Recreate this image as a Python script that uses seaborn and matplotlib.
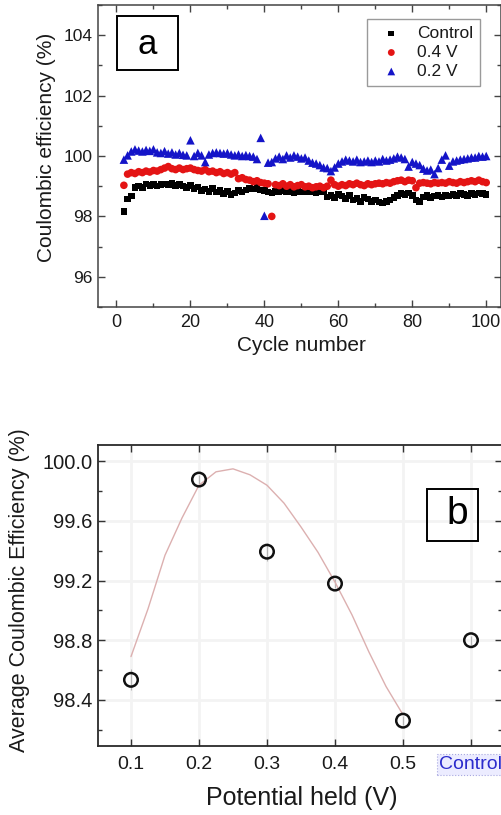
import numpy as np
import pandas as pd
import matplotlib
matplotlib.use("Agg")
import matplotlib.pyplot as plt
import seaborn as sns
from matplotlib.patches import Rectangle
from matplotlib.ticker import MultipleLocator

# ---------------- data: panel a ----------------
cycle = list(range(2, 101))
ce_control = [98.17, 98.58, 98.68, 98.95, 99.00, 98.95, 99.08, 99.02, 99.05,
              99.00, 99.05, 99.08, 99.05, 99.10, 99.02, 99.05, 99.00, 98.95, 99.02,
              98.92, 98.98, 98.85, 98.90, 98.82, 98.92, 98.80, 98.85, 98.75, 98.82,
              98.72, 98.78, 98.85, 98.80, 98.88, 98.92, 98.90, 98.95, 98.88, 98.85,
              98.80, 98.78, 98.82, 98.80, 98.85, 98.80, 98.82, 98.78, 98.82, 98.80,
              98.85, 98.80, 98.82, 98.78, 98.80, 98.82, 98.65, 98.70, 98.62, 98.72,
              98.68, 98.60, 98.70, 98.55, 98.60, 98.50, 98.62, 98.58, 98.50, 98.55,
              98.48, 98.45, 98.50, 98.55, 98.62, 98.70, 98.75, 98.72, 98.78, 98.70,
              98.55, 98.50, 98.65, 98.70, 98.62, 98.68, 98.70, 98.65, 98.70, 98.68,
              98.72, 98.70, 98.75, 98.72, 98.70, 98.75, 98.72, 98.78, 98.75, 98.72]
ce_04v = [99.03, 99.40, 99.45, 99.42, 99.48, 99.45, 99.50, 99.47, 99.52,
          99.50, 99.55, 99.60, 99.65, 99.58, 99.55, 99.60, 99.55, 99.58, 99.60,
          99.55, 99.52, 99.50, 99.55, 99.48, 99.50, 99.45, 99.48, 99.42, 99.45,
          99.40, 99.45, 99.25, 99.28, 99.22, 99.20, 99.15, 99.18, 99.12, 99.10,
          99.08, 98.00, 99.05, 99.02, 99.08, 99.00, 99.05, 98.98, 99.02, 99.05,
          98.98, 99.00, 98.95, 98.98, 99.00, 98.95, 99.00, 99.20, 99.05, 99.00,
          99.05, 99.02, 99.08, 99.05, 99.10, 99.05, 99.02, 99.08, 99.05, 99.08,
          99.10, 99.08, 99.12, 99.10, 99.15, 99.18, 99.20, 99.15, 99.20, 99.18,
          98.95, 99.10, 99.12, 99.10, 99.08, 99.12, 99.10, 99.12, 99.10, 99.15,
          99.12, 99.10, 99.15, 99.12, 99.15, 99.18, 99.15, 99.20, 99.15, 99.12]
ce_02v = [99.88, 100.02, 100.15, 100.22, 100.18, 100.15, 100.20, 100.17, 100.22,
          100.12, 100.10, 100.16, 100.08, 100.12, 100.05, 100.10, 100.04, 100.02, 100.52,
          100.00, 100.10, 100.02, 99.80, 100.05, 100.10, 100.12, 100.10, 100.08, 100.10,
          100.05, 100.02, 100.05, 100.00, 100.03, 100.00, 99.98, 99.90, 100.60, 98.02,
          99.78, 99.80, 99.92, 99.98, 99.90, 100.02, 99.95, 100.02, 99.98, 99.92,
          99.95, 99.85, 99.78, 99.75, 99.70, 99.62, 99.60, 99.50, 99.62, 99.75,
          99.82, 99.88, 99.85, 99.82, 99.88, 99.80, 99.82, 99.85, 99.80, 99.85,
          99.82, 99.90, 99.85, 99.88, 99.92, 99.98, 99.95, 99.90, 99.65, 99.80,
          99.75, 99.70, 99.58, 99.52, 99.55, 99.40, 99.60, 99.88, 100.02, 99.68,
          99.82, 99.85, 99.88, 99.90, 99.92, 99.95, 99.95, 100.00, 99.98, 100.00]
series_labels = ["Control", "0.4 V", "0.2 V"]

# ---------------- data: panel b ----------------
potential = [0.1, 0.2, 0.3, 0.4, 0.5, 0.6]
potential_labels = ["0.1", "0.2", "0.3", "0.4", "0.5", "Control"]
avg_ce = [98.534, 99.878, 99.394, 99.18, 98.26, 98.80]
avg_err = [0.07, 0.03, 0.06, 0.03, 0.03, 0.03]
fit_x = [0.1, 0.125, 0.15, 0.175, 0.2, 0.225, 0.25, 0.275, 0.3,
         0.325, 0.35, 0.375, 0.4, 0.425, 0.45, 0.475, 0.5]
fit_y = [98.69, 99.01, 99.37, 99.62, 99.84, 99.93, 99.95, 99.91, 99.84,
         99.72, 99.56, 99.39, 99.19, 98.97, 98.72, 98.49, 98.30]

# ---------------- style ----------------
sns.set_theme(style="ticks")
plt.rcParams["font.family"] = ["Liberation Sans", "DejaVu Sans"]
TXT = "#1a1a1a"

W, H = 502, 815
fig = plt.figure(figsize=(W / 100, H / 100), dpi=100)
ax1 = fig.add_axes([98 / W, 1 - 307 / H, 403 / W, 302 / H])
ax2 = fig.add_axes([98 / W, 1 - 746 / H, 404 / W, 301 / H])

# ---------------- panel a ----------------
sns.scatterplot(x=cycle, y=ce_control, ax=ax1, marker="s", s=22, color="#000000",
                edgecolor="none", label=series_labels[0], zorder=3)
sns.scatterplot(x=cycle, y=ce_04v, ax=ax1, marker="o", s=30, color="#e41414",
                edgecolor="none", label=series_labels[1], zorder=3)
sns.scatterplot(x=cycle, y=ce_02v, ax=ax1, marker="^", s=38, color="#1414c8",
                edgecolor="none", label=series_labels[2], zorder=3)

ax1.set_xlim(-5, 104)
ax1.set_ylim(95, 105)
ax1.set_xticks([0, 20, 40, 60, 80, 100])
ax1.set_yticks([96, 98, 100, 102, 104])
ax1.xaxis.set_minor_locator(MultipleLocator(10))
ax1.yaxis.set_minor_locator(MultipleLocator(1))
ax1.tick_params(which="both", direction="in", top=True, right=True, colors="#444444",
                labelcolor=TXT)
ax1.tick_params(which="major", length=5, width=1)
ax1.tick_params(which="minor", length=3, width=1)
ax1.tick_params(axis="x", labelsize=13, pad=5)
ax1.tick_params(axis="y", labelsize=12.5, pad=4)
for sp in ax1.spines.values():
    sp.set_color("#444444")
    sp.set_linewidth(1.1)

ax1.set_ylabel("Coulombic efficiency (%)", fontsize=15, color=TXT, va="center")
ax1.yaxis.set_label_coords((47 - 98) / 403, (307 - 147.5) / 302)
ax1.set_xlabel("Cycle number", fontsize=15, color=TXT, va="center")
ax1.xaxis.set_label_coords((301 - 98) / 403, (307 - 345) / 302)

leg = ax1.legend(loc="upper left", bbox_to_anchor=((367 - 98) / 403, (307 - 19) / 302),
                 fontsize=12.5, frameon=True, fancybox=False, framealpha=1,
                 edgecolor="#9a9a9a", borderpad=0.4, handlelength=2.0,
                 handletextpad=0.5, labelspacing=0.22, borderaxespad=0,
                 markerscale=0.9)
leg.get_frame().set_linewidth(1.0)
for t in leg.get_texts():
    t.set_color(TXT)

ax1.add_patch(Rectangle(((117 - 98) / 403, (307 - 70) / 302), 61 / 403, 54 / 302,
                        transform=ax1.transAxes, fill=False, lw=1.4, ec="black", zorder=5))
ax1.text((147 - 98) / 403, (307 - 45) / 302, "a", transform=ax1.transAxes,
         fontsize=25, ha="center", va="center", color="black")

# ---------------- panel b ----------------
ax2.grid(True, color="#f3f3f3", lw=2)
ax2.set_axisbelow(True)
ax2.errorbar(potential, avg_ce, yerr=avg_err, fmt="none", ecolor="#b5b5b5",
             elinewidth=0.8, capsize=0, zorder=2)
sns.lineplot(x=fit_x, y=fit_y, ax=ax2, color="#dcb0b0", lw=1.0, zorder=3)
sns.scatterplot(x=potential, y=avg_ce, ax=ax2, marker="o", s=95, facecolors="none",
                edgecolor="#111111", linewidth=1.8, zorder=5)

ax2.set_xlim(0.0515, 0.6456)
ax2.set_ylim(98.09, 100.11)
ax2.set_xticks(potential)
ax2.set_xticklabels(potential_labels)
ax2.set_yticks([98.4, 98.8, 99.2, 99.6, 100.0])
ax2.set_yticklabels(["98.4", "98.8", "99.2", "99.6", "100.0"])
ax2.yaxis.set_minor_locator(MultipleLocator(0.2))
ax2.tick_params(which="both", direction="in", top=True, right=True, colors="#333333",
                labelcolor=TXT)
ax2.tick_params(which="major", length=5, width=1)
ax2.tick_params(which="minor", length=3, width=1)
ax2.tick_params(axis="x", labelsize=14, pad=7)
ax2.tick_params(axis="y", labelsize=14.5, pad=4)
for sp in ax2.spines.values():
    sp.set_color("#2a2a2a")
    sp.set_linewidth(1.3)

ctl = ax2.get_xticklabels()[-1]
ctl.set_color("#2b2bcc")
ctl.set_bbox(dict(facecolor="#ececff", edgecolor="#a8a8e0", linestyle=":", lw=0.8, pad=1.5))

ax2.set_ylabel("Average Coulombic Efficiency (%)", fontsize=15.5, color=TXT, va="center")
ax2.yaxis.set_label_coords((20 - 98) / 404, (746 - 590) / 301)
ax2.set_xlabel("Potential held (V)", fontsize=18, color=TXT, va="center")
ax2.xaxis.set_label_coords((302 - 98) / 404, (746 - 798) / 301)

ax2.add_patch(Rectangle(((427 - 98) / 404, (746 - 541) / 301), 51 / 404, 52 / 301,
                        transform=ax2.transAxes, fill=False, lw=1.4, ec="black", zorder=6))
ax2.text((457 - 98) / 404, (746 - 514) / 301, "b", transform=ax2.transAxes,
         fontsize=28, ha="center", va="center", color="black")

fig.savefig("out.png", dpi=100)
